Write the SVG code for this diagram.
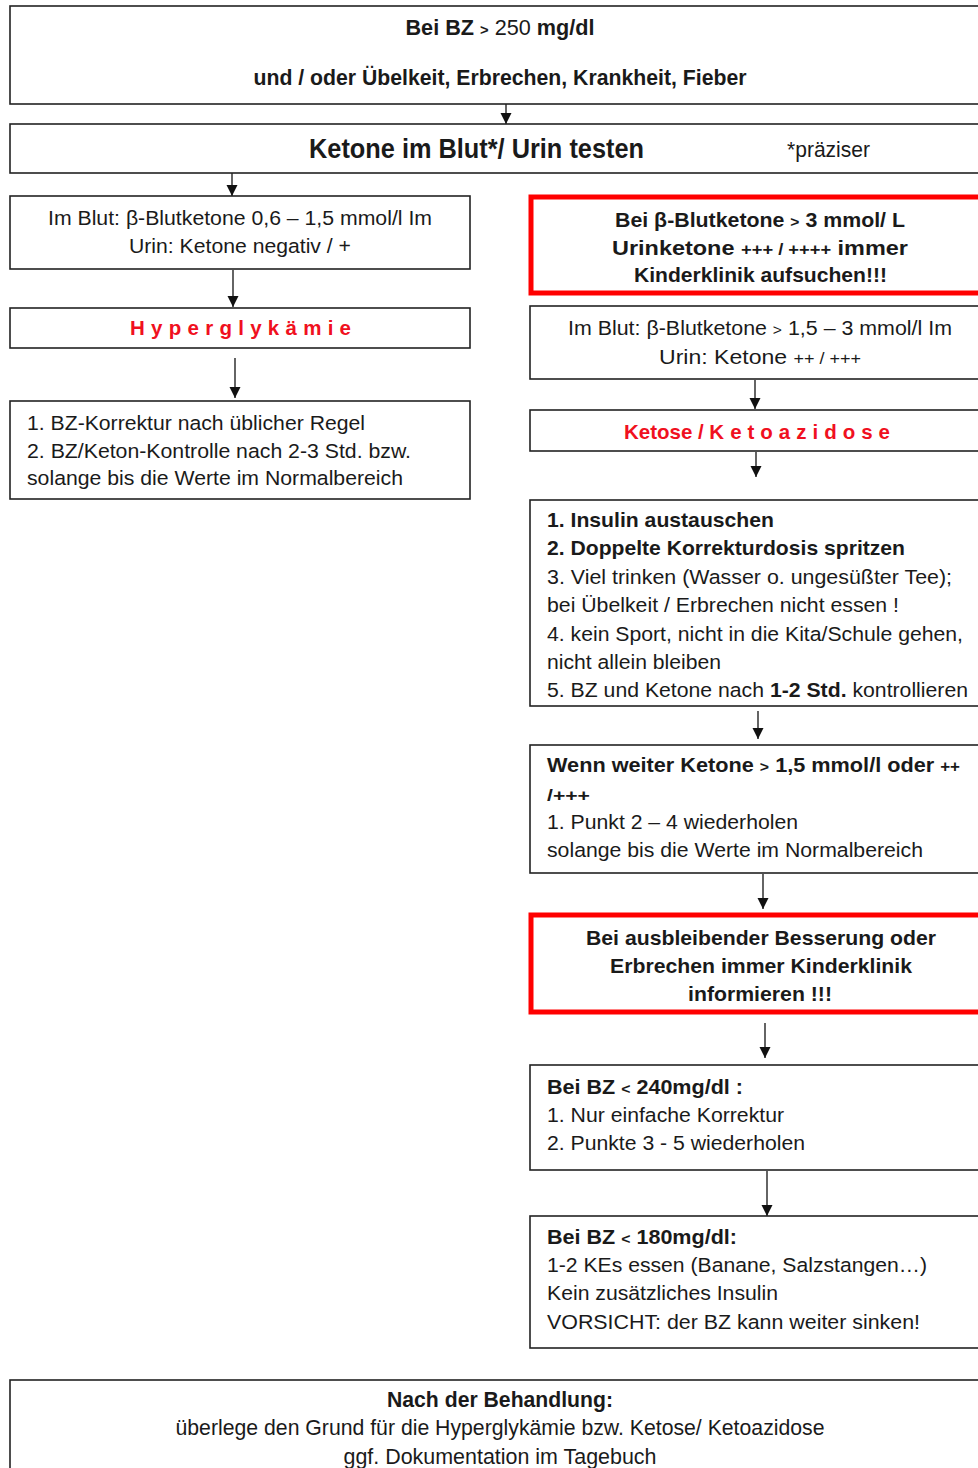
<svg xmlns="http://www.w3.org/2000/svg" width="978" height="1468" viewBox="0 0 978 1468">
<defs>
<style>
.box{fill:#fff;stroke:#222;stroke-width:1.6}
.red{fill:#fff;stroke:#f00;stroke-width:5}
text{font-family:"Liberation Sans",Arial,sans-serif;font-size:20.5px;fill:#1a1a1a}
.c{text-anchor:middle}
.b{font-weight:bold}
.rt{fill:#f01020;font-weight:bold}
.big{font-size:28px}
.narrow{font-size:22px}
.sm{font-size:16px}
.conn{stroke:#111;stroke-width:1.3;fill:none;marker-end:url(#ah)}
</style>
<marker id="ah" viewBox="0 0 11 14" refX="11" refY="5.5" markerWidth="11" markerHeight="14" markerUnits="userSpaceOnUse" orient="auto">
<path d="M0,0 L11,5.5 L0,11 Z" fill="#111"/>
</marker>
</defs>

<g id="connectors">
<line class="conn" x1="506" y1="104" x2="506" y2="124"/>
<line class="conn" x1="232" y1="173" x2="232" y2="196"/>
<line class="conn" x1="233" y1="270" x2="233" y2="307"/>
<line class="conn" x1="235" y1="358" x2="235" y2="398"/>
<line class="conn" x1="755" y1="380" x2="755" y2="409"/>
<line class="conn" x1="756" y1="452" x2="756" y2="477"/>
<line class="conn" x1="758" y1="711" x2="758" y2="739"/>
<line class="conn" x1="763" y1="874" x2="763" y2="909"/>
<line class="conn" x1="765" y1="1023" x2="765" y2="1058"/>
<line class="conn" x1="767" y1="1171" x2="767" y2="1216"/>
</g>

<g id="n_start">
<rect class="box" x="10" y="6" width="990" height="98"/>
<text class="c b narrow" x="500" y="35" textLength="189" lengthAdjust="spacingAndGlyphs">Bei BZ <tspan font-size="15">&gt;</tspan> <tspan font-weight="normal">250</tspan> mg/dl</text>
<text class="c b narrow" x="500" y="85" textLength="493" lengthAdjust="spacingAndGlyphs">und / oder Übelkeit, Erbrechen, Krankheit, Fieber</text>
</g>

<g id="n_test">
<rect class="box" x="10" y="124" width="990" height="49"/>
<text class="b big" x="309" y="158" textLength="335" lengthAdjust="spacingAndGlyphs">Ketone im Blut*/ Urin testen</text>
<text class="narrow" x="787" y="157" textLength="83" lengthAdjust="spacingAndGlyphs">*präziser</text>
</g>

<g id="n_left1">
<rect class="box" x="10" y="196" width="460" height="73"/>
<text x="48" y="225" textLength="384" lengthAdjust="spacingAndGlyphs">Im Blut: β-Blutketone 0,6 – 1,5 mmol/l Im</text>
<text x="129" y="253" textLength="222" lengthAdjust="spacingAndGlyphs">Urin: Ketone negativ / +</text>
</g>

<g id="n_hyper">
<rect class="box" x="10" y="308" width="460" height="40"/>
<text class="rt" x="130" y="335" textLength="221" lengthAdjust="spacing">Hyperglykämie</text>
</g>

<g id="n_left3">
<rect class="box" x="10" y="401" width="460" height="98"/>
<text x="27" y="430" textLength="338" lengthAdjust="spacingAndGlyphs">1. BZ-Korrektur nach üblicher Regel</text>
<text x="27" y="458" textLength="384" lengthAdjust="spacingAndGlyphs">2. BZ/Keton-Kontrolle nach 2-3 Std. bzw.</text>
<text x="27" y="485" textLength="376" lengthAdjust="spacingAndGlyphs">solange bis die Werte im Normalbereich</text>
</g>

<g id="n_klinik1">
<rect class="red" x="531" y="197" width="470" height="96"/>
<text class="b" x="615" y="227" textLength="290" lengthAdjust="spacingAndGlyphs">Bei β-Blutketone <tspan font-size="15">&gt;</tspan> 3 mmol/ L</text>
<text class="b" x="612" y="255" textLength="296" lengthAdjust="spacingAndGlyphs">Urinketone  <tspan font-size="16">+++ / ++++</tspan> immer</text>
<text class="b" x="634" y="282" textLength="253" lengthAdjust="spacingAndGlyphs">Kinderklinik aufsuchen!!!</text>
</g>

<g id="n_right1">
<rect class="box" x="530" y="306" width="470" height="73"/>
<text x="568" y="335" textLength="384" lengthAdjust="spacingAndGlyphs">Im Blut: β-Blutketone <tspan font-size="15">&gt;</tspan> 1,5 – 3 mmol/l Im</text>
<text x="659" y="364" textLength="202" lengthAdjust="spacingAndGlyphs">Urin: Ketone <tspan font-size="16">++ / +++</tspan></text>
</g>

<g id="n_ketose">
<rect class="box" x="530" y="410" width="470" height="41"/>
<text x="624" y="439" class="rt" font-weight="normal" textLength="272" lengthAdjust="spacing">Ketose / <tspan font-weight="bold" letter-spacing="6">Ketoazidose</tspan></text>
</g>

<g id="n_steps">
<rect class="box" x="530" y="500" width="470" height="206"/>
<text class="b" x="547" y="527" textLength="227" lengthAdjust="spacingAndGlyphs">1. Insulin austauschen</text>
<text class="b" x="547" y="555" textLength="358" lengthAdjust="spacingAndGlyphs">2. Doppelte Korrekturdosis spritzen</text>
<text x="547" y="584" textLength="405" lengthAdjust="spacingAndGlyphs">3. Viel trinken (Wasser o. ungesüßter Tee);</text>
<text x="547" y="612" textLength="352" lengthAdjust="spacingAndGlyphs">bei Übelkeit / Erbrechen nicht essen !</text>
<text x="547" y="641" textLength="416" lengthAdjust="spacingAndGlyphs">4. kein Sport, nicht in die Kita/Schule gehen,</text>
<text x="547" y="669" textLength="174" lengthAdjust="spacingAndGlyphs">nicht allein bleiben</text>
<text x="547" y="697" textLength="421" lengthAdjust="spacingAndGlyphs">5. BZ und Ketone nach <tspan font-weight="bold">1-2 Std.</tspan> kontrollieren</text>
</g>

<g id="n_weiter">
<rect class="box" x="530" y="745" width="470" height="128"/>
<text class="b" x="547" y="772" textLength="413" lengthAdjust="spacingAndGlyphs">Wenn weiter Ketone <tspan font-size="15">&gt;</tspan> 1,5 mmol/l oder <tspan font-size="16">++</tspan></text>
<text class="b sm" x="547" y="801" textLength="43" lengthAdjust="spacingAndGlyphs">/+++</text>
<text x="547" y="829" textLength="251" lengthAdjust="spacingAndGlyphs">1. Punkt 2 – 4 wiederholen</text>
<text x="547" y="857" textLength="376" lengthAdjust="spacingAndGlyphs">solange bis die Werte im Normalbereich</text>
</g>

<g id="n_klinik2">
<rect class="red" x="531" y="915" width="470" height="97"/>
<text class="b" x="586" y="945" textLength="350" lengthAdjust="spacingAndGlyphs">Bei ausbleibender Besserung oder</text>
<text class="b" x="610" y="973" textLength="302" lengthAdjust="spacingAndGlyphs">Erbrechen immer Kinderklinik</text>
<text class="b" x="688" y="1001" textLength="144" lengthAdjust="spacingAndGlyphs">informieren !!!</text>
</g>

<g id="n_240">
<rect class="box" x="530" y="1065" width="470" height="105"/>
<text class="b" x="547" y="1094" textLength="196" lengthAdjust="spacingAndGlyphs">Bei BZ <tspan font-size="15">&lt;</tspan> 240mg/dl :</text>
<text x="547" y="1122" textLength="237" lengthAdjust="spacingAndGlyphs">1. Nur einfache Korrektur</text>
<text x="547" y="1150" textLength="258" lengthAdjust="spacingAndGlyphs">2. Punkte 3 - 5 wiederholen</text>
</g>

<g id="n_180">
<rect class="box" x="530" y="1216" width="470" height="132"/>
<text class="b" x="547" y="1244" textLength="190" lengthAdjust="spacingAndGlyphs">Bei BZ <tspan font-size="15">&lt;</tspan> 180mg/dl:</text>
<text x="547" y="1272" textLength="380" lengthAdjust="spacingAndGlyphs">1-2 KEs essen (Banane, Salzstangen…)</text>
<text x="547" y="1300" textLength="231" lengthAdjust="spacingAndGlyphs">Kein zusätzliches Insulin</text>
<text x="547" y="1329" textLength="373" lengthAdjust="spacingAndGlyphs">VORSICHT: der BZ kann weiter sinken!</text>
</g>

<g id="n_nach">
<rect class="box" x="10" y="1380" width="990" height="100"/>
<text class="c b narrow" x="500" y="1407" textLength="226" lengthAdjust="spacingAndGlyphs">Nach der Behandlung:</text>
<text class="c narrow" x="500" y="1435" textLength="649" lengthAdjust="spacingAndGlyphs">überlege den Grund für die Hyperglykämie bzw. Ketose/ Ketoazidose</text>
<text class="c narrow" x="500" y="1464" textLength="313" lengthAdjust="spacingAndGlyphs">ggf. Dokumentation im Tagebuch</text>
</g>
</svg>
